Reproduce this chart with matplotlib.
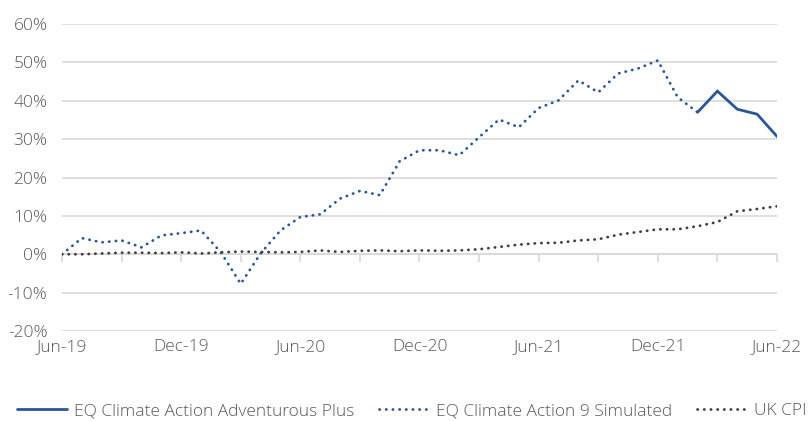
import numpy as np
import matplotlib
matplotlib.use("Agg")
import matplotlib.pyplot as plt

# === Data (cumulative % return, monthly Jun-19 .. Jun-22) ===
months = ["Jun-19", "Jul-19", "Aug-19", "Sep-19", "Oct-19", "Nov-19", "Dec-19",
          "Jan-20", "Feb-20", "Mar-20", "Apr-20", "May-20", "Jun-20",
          "Jul-20", "Aug-20", "Sep-20", "Oct-20", "Nov-20", "Dec-20",
          "Jan-21", "Feb-21", "Mar-21", "Apr-21", "May-21", "Jun-21",
          "Jul-21", "Aug-21", "Sep-21", "Oct-21", "Nov-21", "Dec-21",
          "Jan-22", "Feb-22", "Mar-22", "Apr-22", "May-22", "Jun-22"]

simulated = [0.0, 4.2, 3.1, 3.6, 1.8, 4.9, 5.5,
             6.2, 0.5, -7.7, 0.2, 6.2, 9.7,
             10.4, 14.5, 16.5, 15.4, 24.2, 27.1,
             27.1, 25.8, 30.5, 35.1, 33.1, 38.1,
             40.1, 45.3, 42.2, 47.1, 48.4, 50.5,
             40.9, 37.0]
# live fund starts where the simulation stops (Feb-22)
adventurous = [37.0, 42.5, 37.8, 36.5, 30.7]

uk_cpi = [0.0, 0.0, 0.2, 0.4, 0.4, 0.3, 0.5,
          0.2, 0.5, 0.7, 0.6, 0.5, 0.6,
          1.0, 0.6, 0.9, 1.0, 0.8, 1.0,
          0.9, 1.0, 1.3, 1.9, 2.5, 2.9,
          3.0, 3.6, 3.9, 5.1, 5.8, 6.5,
          6.5, 7.3, 8.4, 11.2, 11.8, 12.5]

yticks = [-20, -10, 0, 10, 20, 30, 40, 50, 60]

# === Style ===
BLUE = "#2A5699"
CPI = "#3F3F3F"
GRID = "#D9D9D9"
TXT = "#595959"
plt.rcParams["font.family"] = ["Open Sans", "DejaVu Sans"]
plt.rcParams["font.weight"] = "light"

fig = plt.figure(figsize=(8.09, 4.21), dpi=100)
ax = fig.add_axes([62 / 809, 1 - 331 / 421, (777 - 62) / 809, (331 - 24) / 421])

x_all = np.arange(len(months))
x_sim = np.arange(len(simulated))
x_adv = np.arange(len(simulated) - 1, len(simulated) - 1 + len(adventurous))

ax.plot(x_adv, adventurous, color=BLUE, lw=2.0, solid_capstyle="round",
        solid_joinstyle="miter", label="EQ Climate Action Adventurous Plus", zorder=4)
ax.plot(x_sim, simulated, color=BLUE, lw=2.0, ls=(0, (0.1, 2.3)),
        dash_capstyle="round", label="EQ Climate Action 9 Simulated", zorder=3)
ax.plot(x_all, uk_cpi, color=CPI, lw=2.0, ls=(0, (0.1, 2.3)),
        dash_capstyle="round", label="UK CPI", zorder=3)

ax.set_xlim(0, len(months) - 1)
ax.set_ylim(-20, 60)
ax.set_yticks(yticks)
ax.set_yticklabels([f"{v}%" for v in yticks])
ax.yaxis.grid(True, color=GRID, lw=1.2)
ax.set_axisbelow(True)

ax.set_xticks(x_all[::6])
ax.set_xticklabels(months[::6])
ax.tick_params(axis="x", length=0, pad=6, labelsize=12.5, colors=TXT)
ax.tick_params(axis="y", length=0, pad=10.5, labelsize=12.5, colors=TXT)
for s in ax.spines.values():
    s.set_visible(False)

# zero line with quarterly tick marks
zero = ax.secondary_xaxis(0.25)
zero.set_xticks(x_all[::3])
zero.set_xticklabels([])
zero.tick_params(axis="x", direction="out", length=6, width=1.2, color=GRID)
zero.spines["bottom"].set_color(GRID)
zero.spines["bottom"].set_linewidth(1.2)
for k in ("top", "left", "right"):
    zero.spines[k].set_visible(False)

leg = fig.legend(loc="center left", bbox_to_anchor=(17 / 809, 1 - 411 / 421), ncol=3,
                 frameon=False, fontsize=12.5, handlelength=2.9, handletextpad=0.4,
                 columnspacing=1.4, borderpad=0, borderaxespad=0)
for t in leg.get_texts():
    t.set_color(TXT)

fig.savefig("out.png", dpi=100)
